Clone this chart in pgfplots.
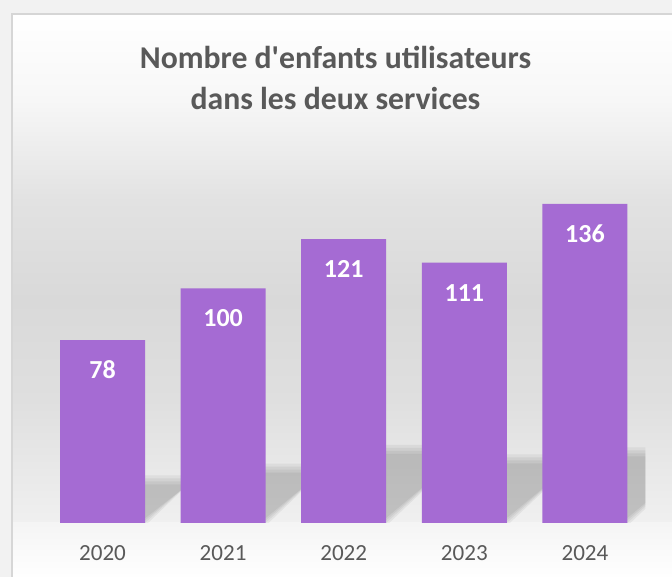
\documentclass[border=0pt]{standalone}
\usepackage{pgfplots}
\pgfplotsset{compat=1.18}
\usepackage{fontspec}
\setmainfont{Carlito}[Ligatures=TeXOff]
\definecolor{barc}{HTML}{A56BD3}
\definecolor{txt}{HTML}{595959}
\definecolor{outer}{HTML}{F2F2F2}
\definecolor{frameline}{HTML}{D6D6D6}
\definecolor{g1}{HTML}{F7F7F7}
\definecolor{g2}{HTML}{E2E2E2}
\definecolor{g3}{HTML}{D9D9D9}
\definecolor{g4}{HTML}{DFDFDF}
\definecolor{g5}{HTML}{F0F0F0}
% decorative blurred perspective shadow behind a bar: #1 centre, #2 shadow height, #3 skew
\newcommand\shadowbar[3]{%
  \foreach \e in {-6,-3,0,3}{%
    \pgfmathsetmacro\xa{#1-0.352}%
    \pgfmathsetmacro\xb{#1+0.352+\e*0.0083}%
    \pgfmathsetmacro\xc{#1+0.352+#3+\e*0.0083}%
    \pgfmathsetmacro\xd{#1-0.352+#3}%
    \pgfmathsetmacro\yt{#2+\e*0.426}%
    \edef\temp{\noexpand\addplot[draw=none, fill=black, fill opacity=0.05, forget plot] coordinates {(\xa,0) (\xb,0) (\xc,\yt) (\xd,\yt)} -- cycle;}%
    \temp
  }%
}
\begin{document}
\begin{tikzpicture}
\begin{scope}[x=0.75pt,y=0.75pt]
\useasboundingbox (0,0) rectangle (672,577);
\clip (0,0) rectangle (672,577);
\fill[outer] (0,0) rectangle (672,577);
% image y -> tikz y = 577 - y
\shade[top color=white, bottom color=g1] (12,476.5) rectangle (690,563);   % 14..100
\shade[top color=g1, bottom color=g2] (12,376.5) rectangle (690,477);      % 100..200
\shade[top color=g2, bottom color=g3] (12,276.5) rectangle (690,377);      % 200..300
\shade[top color=g3, bottom color=g4] (12,176.5) rectangle (690,277);      % 300..400
\shade[top color=g4, bottom color=g5] (12,54) rectangle (690,177);         % 400..523
\shade[top color=white!96!black, bottom color=white] (12,-5) rectangle (690,54.5);
\draw[frameline, line width=1.5] (12,-5) -- (12,563) -- (690,563);
\node[font=\fontsize{23.8}{30.75}\selectfont\bfseries, text=txt, align=center] at (335.5,499.5) {Nombre d'enfants utilisateurs\\dans les deux services};
\end{scope}
\begin{axis}[
  at={(76.875pt,40.5pt)}, anchor=origin, scale only axis,
  width=452.3pt, height=316.7pt,
  xmin=-0.5, xmax=4.5, ymin=0, ymax=180,
  axis line style={draw=none}, major tick length=0pt,
  ytick=\empty, xtick={0,1,2,3,4},
  xticklabels={2020,2021,2022,2023,2024},
  xticklabel style={font=\fontsize{17.3}{20}\selectfont, text=txt, yshift=-13pt},
  /pgf/number format/assume math mode=true,
]
\shadowbar{0}{19}{0.41}
\shadowbar{1}{24}{0.51}
\shadowbar{2}{32}{0.68}
\shadowbar{3}{28}{0.60}
\shadowbar{4}{31}{0.66}
\addplot[ybar, bar width=63.75pt, fill=barc, draw=none,
  nodes near coords,
  nodes near coords style={anchor=center, yshift=-22.5pt, text=white, font=\fontsize{19.5}{22}\selectfont\bfseries},
] coordinates {(0,78) (1,100) (2,121) (3,111) (4,136)};
\end{axis}
\end{tikzpicture}
\end{document}
